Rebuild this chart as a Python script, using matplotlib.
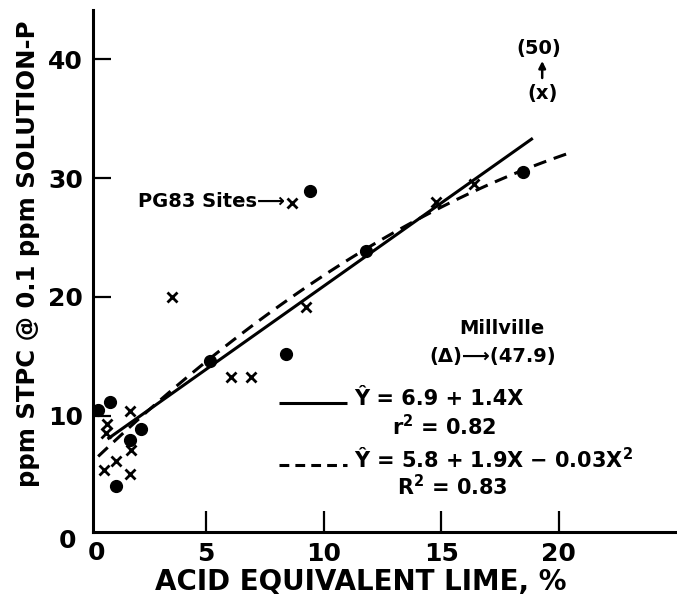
import numpy as np
import matplotlib
matplotlib.use('Agg')
import matplotlib.pyplot as plt

# filled circles
circ_x = [0.4, 0.9, 2.24, 1.74, 1.18, 5.15, 8.41, 9.43, 11.8, 18.5]
circ_y = [10.5, 11.1, 8.9, 7.9, 4.1, 14.6, 15.2, 28.9, 23.9, 30.5]

# x markers
cross_x = [1.74, 0.79, 0.75, 1.81, 1.18, 0.65, 1.74, 3.56, 6.07, 6.92, 9.26, 8.67, 14.8, 16.4]
cross_y = [10.4, 9.3, 8.5, 7.1, 6.2, 5.4, 5.1, 20.0, 13.25, 13.25, 19.15, 27.9, 28.0, 29.5]

# regression fits
lin_a, lin_b = 6.9, 1.4
quad_a, quad_b, quad_c = 5.8, 1.9, -0.03
lin_range = (0.8, 18.9)
quad_range = (0.4, 20.5)

xticks = [5, 10, 15, 20]
yticks = [10, 20, 30, 40]

plt.rcParams['font.family'] = ['DejaVu Sans']
plt.rcParams['font.weight'] = 'bold'

fig = plt.figure(figsize=(6.77, 5.96), dpi=100)
ax = fig.add_axes([0.137, 0.107, 0.861, 0.876])

xl = np.linspace(*lin_range, 50)
ax.plot(xl, lin_a + lin_b * xl, color='black', linewidth=2.2, solid_capstyle='butt')
xq = np.linspace(*quad_range, 100)
ax.plot(xq, quad_a + quad_b * xq + quad_c * xq ** 2, color='black', linewidth=2.2,
        dashes=(4.3, 2.6))

ax.plot(circ_x, circ_y, 'o', color='black', markersize=8.5, linestyle='none')
ax.plot(cross_x, cross_y, 'x', color='black', markersize=7.5, markeredgewidth=2.0, linestyle='none')

# legend drawn by hand
ax.plot([8.1, 11.0], [11.05, 11.05], color='black', linewidth=2.2, solid_capstyle='butt')
ax.plot([8.1, 11.0], [5.8, 5.8], color='black', linewidth=2.2, dashes=(3.2, 2.0))
ax.text(11.3, 11.4, 'Ŷ = 6.9 + 1.4X', fontsize=15, va='center', ha='left')
ax.text(12.9, 9.1, 'r$^{\\mathbf{2}}$ = 0.82', fontsize=15, va='center', ha='left')
ax.text(11.3, 6.3, 'Ŷ = 5.8 + 1.9X − 0.03X$^{\\mathbf{2}}$', fontsize=15, va='center', ha='left')
ax.text(13.1, 4.0, 'R$^{\\mathbf{2}}$ = 0.83', fontsize=15, va='center', ha='left')

# annotations
ax.text(8.35, 28.0, 'PG83 Sites⟶', fontsize=14, va='center', ha='right')
ax.text(17.6, 17.3, 'Millville', fontsize=14, va='center', ha='center')
ax.text(17.2, 15.0, '(Δ)⟶(47.9)', fontsize=14, va='center', ha='center')
ax.text(19.15, 40.9, '(50)', fontsize=14, va='center', ha='center')
ax.annotate('', xy=(19.3, 40.1), xytext=(19.3, 38.2),
            arrowprops=dict(arrowstyle='-|>', color='black', lw=1.8, mutation_scale=10))
ax.text(19.3, 37.1, '(x)', fontsize=14, va='center', ha='center')

ax.set_xlim(0.17, 24.98)
ax.set_ylim(0.17, 44.15)
ax.spines['top'].set_visible(False)
ax.spines['right'].set_visible(False)
ax.spines['left'].set_linewidth(2.2)
ax.spines['bottom'].set_linewidth(2.2)

ax.set_xticks(xticks)
ax.set_yticks(yticks)
ax.tick_params(axis='x', direction='in', length=15, width=1.6, pad=7, labelsize=18)
ax.tick_params(axis='y', direction='in', length=13, width=1.6, pad=7, labelsize=18)
ax.text(-0.9, -0.6, '0', fontsize=18, ha='center', va='center', clip_on=False)
ax.text(0.34, -1.6, '0', fontsize=18, ha='center', va='center', clip_on=False)

ax.set_xlabel('ACID EQUIVALENT LIME, %', fontsize=20, fontweight='bold')
ax.set_ylabel('ppm STPC @ 0.1 ppm SOLUTION-P', fontsize=17.5, fontweight='bold')
ax.xaxis.label.set_va('center')
ax.yaxis.label.set_va('center')
ax.xaxis.set_label_coords(0.46, -0.096)
ax.yaxis.set_label_coords(-0.111, 0.533)

fig.savefig('out.png', dpi=100)
